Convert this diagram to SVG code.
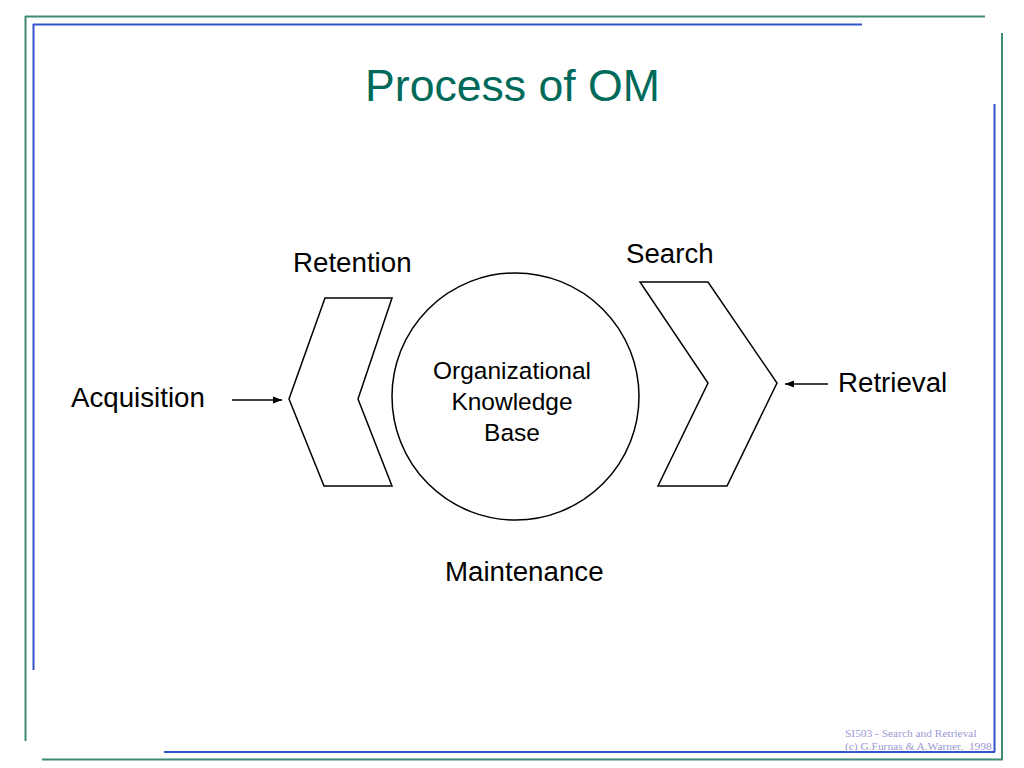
<svg xmlns="http://www.w3.org/2000/svg" width="1024" height="768" viewBox="0 0 1024 768">
<style>
.g{stroke:#3f8a76;stroke-width:2;fill:none}
.b{stroke:#3355cc;stroke-width:2;fill:none}
.shape{fill:#fff;stroke:#000;stroke-width:1.5}
.lbl{font-family:"Liberation Sans",Arial,sans-serif;font-size:27.7px;fill:#000}
.in{font-family:"Liberation Sans",Arial,sans-serif;font-size:24.5px;fill:#000;text-anchor:middle}
.ft{font-family:"Liberation Serif","Times New Roman",serif;font-size:11.4px;fill:#9a9ad6}
</style>
<defs>
<marker id="ah" viewBox="0 0 10 10" refX="10" refY="5" markerWidth="10" markerHeight="9" markerUnits="userSpaceOnUse" orient="auto">
<path d="M0,1 L10,5 L0,9 z" fill="#000"/>
</marker>
</defs>
<rect width="1024" height="768" fill="#fff"/>
<g id="frame">
<line class="g" x1="25" y1="16.5" x2="985" y2="16.5"/>
<line class="g" x1="25.5" y1="16" x2="25.5" y2="741"/>
<line class="g" x1="1002" y1="33" x2="1002" y2="760"/>
<line class="g" x1="42" y1="759.5" x2="1003" y2="759.5"/>
<line class="b" x1="33" y1="24.5" x2="862" y2="24.5"/>
<line class="b" x1="33.5" y1="24" x2="33.5" y2="670"/>
<line class="b" x1="994.5" y1="104" x2="994.5" y2="752"/>
<line class="b" x1="164" y1="752" x2="995" y2="752"/>
</g>
<text id="title" x="512.5" y="101" text-anchor="middle" font-family="'Liberation Sans',Arial,sans-serif" font-size="44.6" fill="#006a5a">Process of OM</text>
<g id="retention-shape">
<polygon class="shape" points="325,298 392,298 358,399 392,486 324,486 289,399"/>
</g>
<g id="kb">
<circle class="shape" cx="515.5" cy="396.5" r="123.5"/>
<text class="in" x="512" y="379">Organizational</text>
<text class="in" x="512" y="410">Knowledge</text>
<text class="in" x="512" y="441">Base</text>
</g>
<g id="search-shape">
<polygon class="shape" points="640,282 708,282 777,383 727,486 658,486 708,383"/>
</g>
<g id="labels">
<text class="lbl" x="293" y="272">Retention</text>
<text class="lbl" x="626" y="263">Search</text>
<text class="lbl" x="71" y="407">Acquisition</text>
<text class="lbl" x="838" y="392">Retrieval</text>
<text class="lbl" x="445" y="581">Maintenance</text>
</g>
<g id="connectors" stroke="#000" stroke-width="1.5">
<line x1="232" y1="400" x2="282" y2="400" marker-end="url(#ah)"/>
<line x1="828" y1="384" x2="785" y2="384" marker-end="url(#ah)"/>
</g>
<g id="footer">
<text class="ft" x="845" y="737">SI503 - Search and Retrieval</text>
<text class="ft" x="845" y="750" xml:space="preserve">(c) G.Furnas &amp; A.Warner,  1998</text>
</g>
</svg>
